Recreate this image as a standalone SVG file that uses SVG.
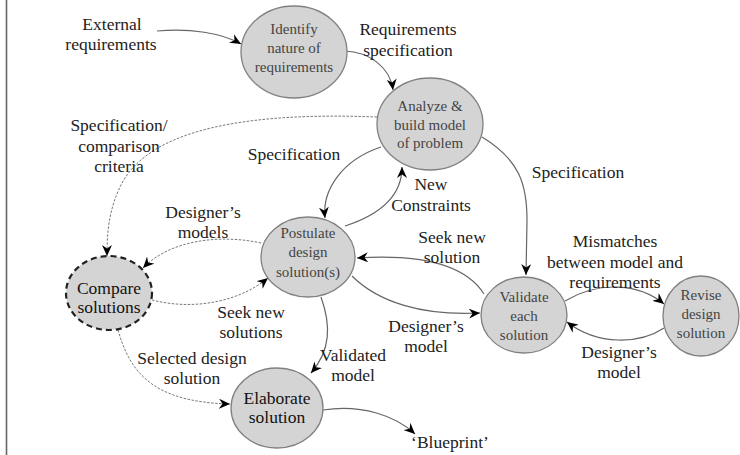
<svg xmlns="http://www.w3.org/2000/svg" width="740" height="455" viewBox="0 0 740 455">
  <defs>
    <marker id="arrow" markerUnits="userSpaceOnUse" markerWidth="12" markerHeight="10" refX="11" refY="5" orient="auto">
      <path d="M0,0 L11,5 L0,10 L3.5,5 z" fill="#000"/>
    </marker>
    <style>
      text { font-family: "Liberation Serif", "Times New Roman", Tinos, "Noto Serif", "DejaVu Serif", FreeSerif, Georgia, serif; }
      .node ellipse { fill: #d4d4d4; stroke: #808080; stroke-width: 1.3; }
      .node text { font-size: 15px; fill: #444; text-anchor: middle; }
      .node.major text { font-size: 17.5px; fill: #111; }
      #compare ellipse { stroke: #222; stroke-width: 2.2; stroke-dasharray: 6 4; }
      .edge { fill: none; stroke: #666; stroke-width: 1.2; marker-end: url(#arrow); }
      .edge.dotted { stroke: #777; stroke-width: 1; stroke-dasharray: 2.5 1.5; }
      .label { font-size: 17.5px; fill: #222; text-anchor: middle; }
    </style>
  </defs>
  <rect width="740" height="455" fill="#fff"/>
  <line x1="6.5" y1="0" x2="6.5" y2="455" stroke="#666" stroke-width="1.6"/>

  <!-- connectors -->
  <g id="connectors">
    <path class="edge" d="M157,31 C190,28 222,33 241,44"/>
    <path class="edge" d="M345,51 C368,52 390,66 393,90"/>
    <path class="edge" d="M381,147 C342,160 322,190 325,218"/>
    <path class="edge" d="M345,226 C382,214 402,195 402,167"/>
    <path class="edge" d="M482,137 C520,160 527,185 527,220 L526,275"/>
    <path class="edge" d="M484,294 C465,264 420,254 357,258"/>
    <path class="edge" d="M352,276 C378,302 422,316 480,313"/>
    <path class="edge" d="M321,297 C331,325 331,350 311,373"/>
    <path class="edge" d="M323,410 C362,404 396,416 415,434"/>
    <path class="edge" d="M565,301 C600,280 640,284 664,304"/>
    <path class="edge" d="M664,328 C640,344 598,346 567,322"/>
    <path class="edge dotted" d="M377,117 C250,112 152,128 122,183 C108,210 107,235 107,256"/>
    <path class="edge dotted" d="M261,243 C220,234 170,240 143,268"/>
    <path class="edge dotted" d="M152,300 C195,311 240,301 268,278"/>
    <path class="edge dotted" d="M118,330 C130,372 152,402 230,404"/>
  </g>

  <!-- nodes -->
  <g id="identify" class="node">
    <ellipse cx="294" cy="52" rx="53" ry="46"/>
    <text x="294" y="34">Identify</text>
    <text x="294" y="53">nature of</text>
    <text x="294" y="72">requirements</text>
  </g>
  <g id="analyze" class="node">
    <ellipse cx="430" cy="124" rx="53" ry="46"/>
    <text x="430" y="111">Analyze &amp;</text>
    <text x="430" y="130">build model</text>
    <text x="430" y="148">of problem</text>
  </g>
  <g id="postulate" class="node">
    <ellipse cx="308" cy="257" rx="47" ry="40"/>
    <text x="308" y="238">Postulate</text>
    <text x="308" y="257">design</text>
    <text x="308" y="277">solution(s)</text>
  </g>
  <g id="compare" class="node major">
    <ellipse cx="109" cy="293" rx="43" ry="37"/>
    <text x="109" y="294">Compare</text>
    <text x="109" y="313">solutions</text>
  </g>
  <g id="elaborate" class="node major">
    <ellipse cx="277" cy="408" rx="46" ry="40"/>
    <text x="277" y="404">Elaborate</text>
    <text x="277" y="423">solution</text>
  </g>
  <g id="validate" class="node">
    <ellipse cx="524" cy="315" rx="43" ry="38"/>
    <text x="524" y="302">Validate</text>
    <text x="524" y="321">each</text>
    <text x="524" y="340">solution</text>
  </g>
  <g id="revise" class="node">
    <ellipse cx="701" cy="316" rx="38" ry="40"/>
    <text x="701" y="300">Revise</text>
    <text x="701" y="319">design</text>
    <text x="701" y="338">solution</text>
  </g>

  <!-- connector labels -->
  <g id="labels">
    <text class="label" x="112" y="30">External</text>
    <text class="label" x="111" y="50">requirements</text>
    <text class="label" x="408" y="35">Requirements</text>
    <text class="label" x="408" y="56">specification</text>
    <text class="label" x="119" y="131">Specification/</text>
    <text class="label" x="119" y="152">comparison</text>
    <text class="label" x="119" y="172">criteria</text>
    <text class="label" x="294" y="160">Specification</text>
    <text class="label" x="431" y="190">New</text>
    <text class="label" x="431" y="211">Constraints</text>
    <text class="label" x="578" y="178">Specification</text>
    <text class="label" x="203" y="218">Designer’s</text>
    <text class="label" x="203" y="238">models</text>
    <text class="label" x="452" y="243">Seek new</text>
    <text class="label" x="452" y="263">solution</text>
    <text class="label" x="615" y="247">Mismatches</text>
    <text class="label" x="615" y="268">between model and</text>
    <text class="label" x="615" y="288">requirements</text>
    <text class="label" x="251" y="318">Seek new</text>
    <text class="label" x="251" y="338">solutions</text>
    <text class="label" x="426" y="332">Designer’s</text>
    <text class="label" x="426" y="352">model</text>
    <text class="label" x="619" y="358">Designer’s</text>
    <text class="label" x="619" y="378">model</text>
    <text class="label" x="192" y="364">Selected design</text>
    <text class="label" x="192" y="384">solution</text>
    <text class="label" x="353" y="361">Validated</text>
    <text class="label" x="353" y="381">model</text>
    <text class="label" x="450" y="448">‘Blueprint’</text>
  </g>
</svg>
